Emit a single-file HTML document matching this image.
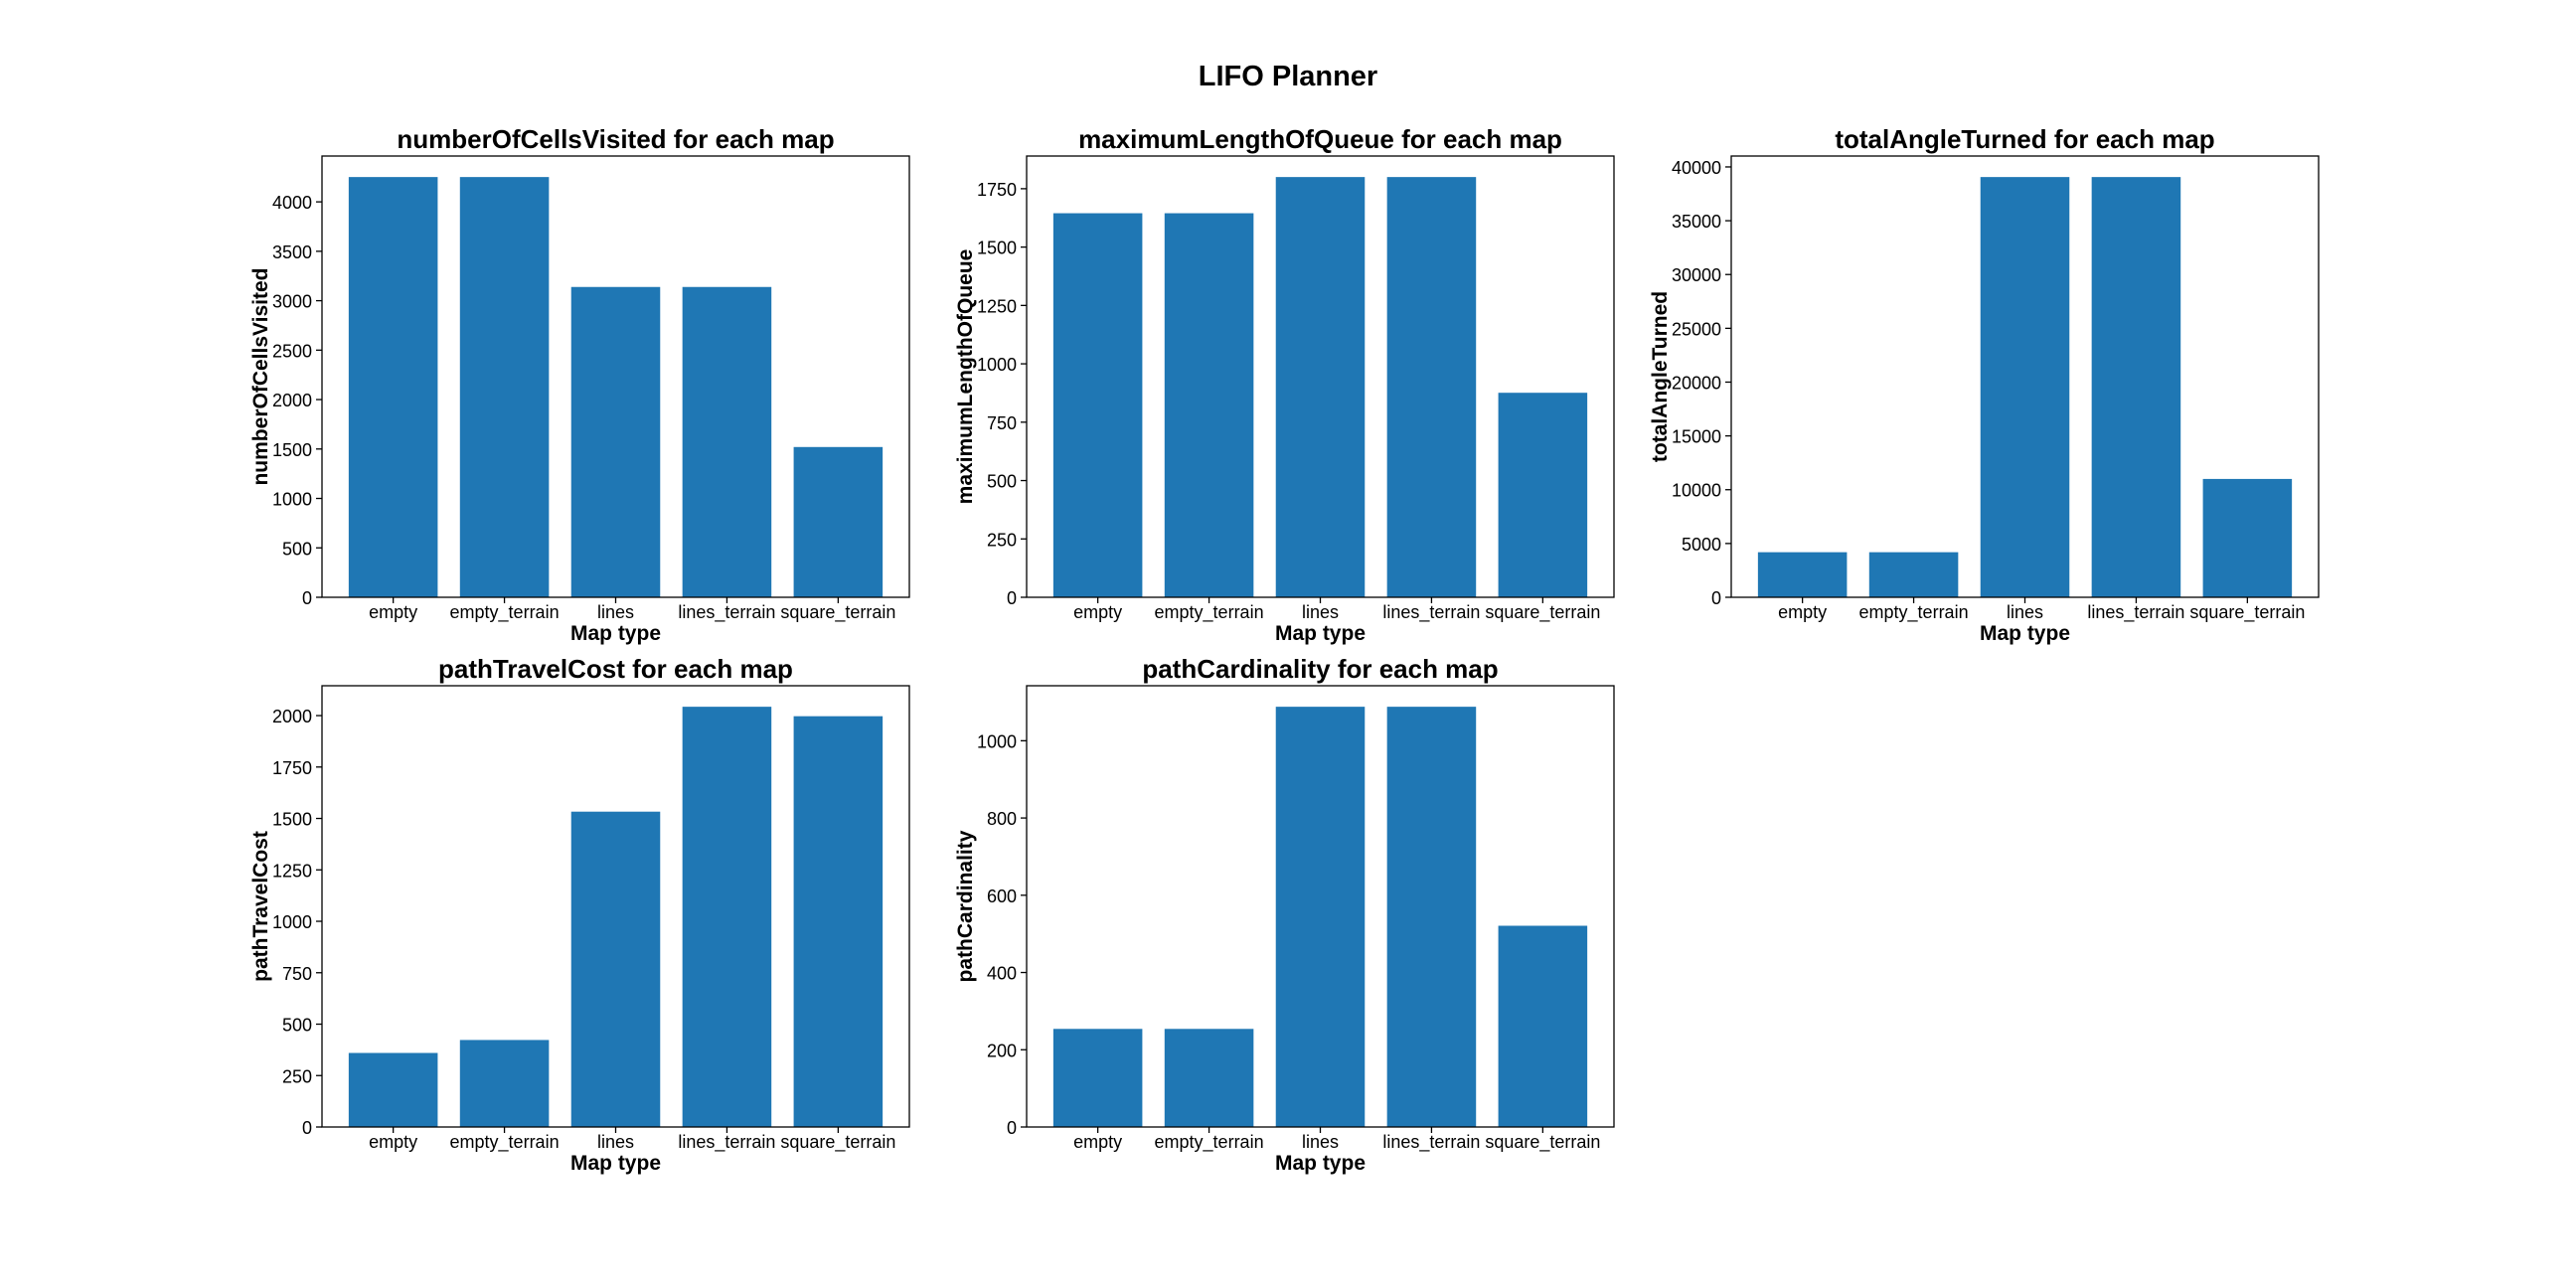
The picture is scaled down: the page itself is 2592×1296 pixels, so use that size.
<!DOCTYPE html>
<html><head><meta charset="utf-8"><style>
html,body{margin:0;padding:0;background:#fff;}
svg{display:block;font-family:"Liberation Sans",sans-serif;}
</style></head><body>
<svg id="fig" width="2592" height="1296" viewBox="0 0 2592 1296" xmlns="http://www.w3.org/2000/svg">
<rect width="2592" height="1296" fill="#fff"/>
<text x="1296" y="86" text-anchor="middle" font-size="29" font-weight="bold">LIFO Planner</text>
</svg>
<script>
const categories = ["empty","empty_terrain","lines","lines_terrain","square_terrain"];
const cellsVisited = [4251, 4251, 3139, 3139, 1520];
const maxQueue = [1645, 1645, 1800, 1800, 876];
const angleTurned = [4190, 4190, 39060, 39060, 11000];
const travelCost = [360, 423, 1533, 2043, 1997];
const cardinality = [254, 254, 1088, 1088, 521];
const ticksCells = [0,500,1000,1500,2000,2500,3000,3500,4000];
const ticksQueue = [0,250,500,750,1000,1250,1500,1750];
const ticksAngle = [0,5000,10000,15000,20000,25000,30000,35000,40000];
const ticksCost = [0,250,500,750,1000,1250,1500,1750,2000];
const ticksCard = [0,200,400,600,800,1000];
const metricNames = ["numberOfCellsVisited","maximumLengthOfQueue","totalAngleTurned","pathTravelCost","pathCardinality"];

const NS = "http://www.w3.org/2000/svg";
const svg = document.getElementById('fig');
function mk(tag, attrs, parent){
  const e = document.createElementNS(NS, tag);
  for (const k in attrs) e.setAttribute(k, attrs[k]);
  (parent||svg).appendChild(e);
  return e;
}
const W = 591, H = 444;
const lefts = [324, 1033, 1742];
const tops = [157, 690];

function drawPanel(idx, name, values, ticks, left, top, labelOffset){
  const g = mk('g', {});
  
  
  const ymax = Math.max(...values) * 1.05;
  const xmin = -0.64, xmax = categories.length - 1 + 0.64;
  const xs = v => left + (v - xmin) / (xmax - xmin) * W;
  const ys = v => top + H - v / ymax * H;
  values.forEach((v, i) => {
    const r = mk('rect', {x: xs(i - 0.4), y: ys(v), width: xs(i + 0.4) - xs(i - 0.4), height: ys(0) - ys(v), fill: '#1f77b4'}, g);
    
    
  });
  const frame = mk('rect', {x: left, y: top, width: W, height: H, fill: 'none', stroke: '#000', 'stroke-width': 1.3}, g);
  
  
  ticks.forEach(t => {
    const y = ys(t);
    mk('line', {x1: left - 6, x2: left, y1: y, y2: y, stroke: '#000', 'stroke-width': 1.3}, g);
    const tx = mk('text', {x: left - 10, y: y + 7, 'text-anchor': 'end', 'font-size': 18}, g);
    tx.textContent = t;
    
    
  });
  categories.forEach((c, i) => {
    const x = xs(i);
    mk('line', {x1: x, x2: x, y1: top + H, y2: top + H + 6, stroke: '#000', 'stroke-width': 1.3}, g);
    const tx = mk('text', {x: x, y: top + H + 21, 'text-anchor': 'middle', 'font-size': 18}, g);
    tx.textContent = c;
    
    
  });
  const xl = mk('text', {x: left + W/2, y: top + H + 43, 'text-anchor': 'middle', 'font-size': 21, 'font-weight': 'bold'}, g);
  xl.textContent = 'Map type';
  
  
  const lx = left - labelOffset;
  const yl = mk('text', {x: lx, y: top + H/2, 'text-anchor': 'middle', 'font-size': 21, 'font-weight': 'bold', transform: 'rotate(-90 ' + lx + ' ' + (top + H/2) + ')'}, g);
  yl.textContent = name;
  
  
  const tt = mk('text', {x: left + W/2, y: top - 8, 'text-anchor': 'middle', 'font-size': 26, 'font-weight': 'bold'}, g);
  tt.textContent = name + ' for each map';
  
  
}
drawPanel(0, metricNames[0], cellsVisited, ticksCells, lefts[0], tops[0], 55);
drawPanel(1, metricNames[1], maxQueue, ticksQueue, lefts[1], tops[0], 55);
drawPanel(2, metricNames[2], angleTurned, ticksAngle, lefts[2], tops[0], 65);
drawPanel(3, metricNames[3], travelCost, ticksCost, lefts[0], tops[1], 55);
drawPanel(4, metricNames[4], cardinality, ticksCard, lefts[1], tops[1], 55);
</script>
</body></html>
